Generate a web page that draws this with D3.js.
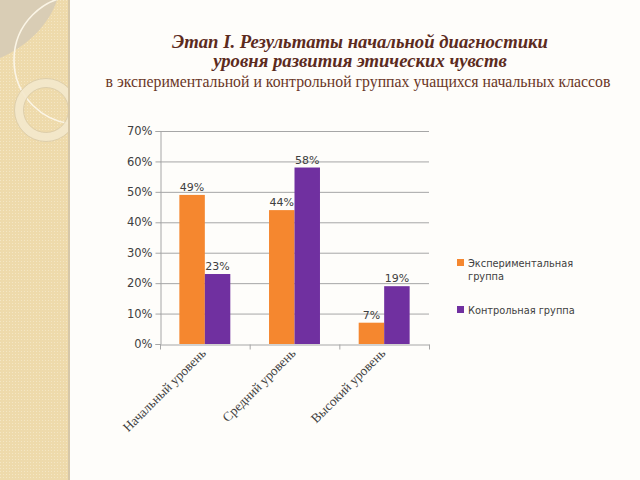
<!DOCTYPE html>
<html><head><meta charset="utf-8">
<script src="https://cdn.jsdelivr.net/npm/d3@7"></script>
<style>html,body{margin:0;padding:0;background:#fefdfa;}svg{display:block;}</style>
</head><body>
<script>
const categories = ["Начальный уровень", "Средний уровень", "Высокий уровень"];
const seriesNames = ["Экспериментальная группа", "Контрольная группа"];
const experimental = [49, 44, 7];
const control = [23, 58, 19];
const yTicks = [0, 10, 20, 30, 40, 50, 60, 70];
const colors = ["#f5872f", "#7030a0"];

const W = 640, H = 480;
const svg = d3.select("body").append("svg").attr("width", W).attr("height", H);
svg.append("rect").attr("width", W).attr("height", H).attr("fill", "#fefdfa");

// left decorative panel
const defs = svg.append("defs");
const pat = defs.append("pattern").attr("id", "dots").attr("width", 3).attr("height", 3).attr("patternUnits", "userSpaceOnUse");
pat.append("rect").attr("width", 3).attr("height", 3).attr("fill", "#eedaab");
pat.append("rect").attr("width", 1).attr("height", 1).attr("fill", "#f4e6c4");
defs.append("clipPath").attr("id", "panel").append("rect").attr("width", 69).attr("height", H);
const panel = svg.append("g").attr("clip-path", "url(#panel)");
panel.append("rect").attr("width", 69).attr("height", H).attr("fill", "url(#dots)");
panel.append("path").attr("d", "M0,0 L57,0 C50,22 30,45 0,58 Z").attr("fill", "#d9cdb5");
panel.append("circle").attr("cx", 78).attr("cy", 60).attr("r", 64).attr("fill", "none").attr("stroke", "#fbf5e6").attr("stroke-width", 1.6);
panel.append("circle").attr("cx", 46).attr("cy", 110).attr("r", 27).attr("fill", "none").attr("stroke", "#f3e8cc").attr("stroke-width", 9).attr("opacity", 0.9);
panel.append("circle").attr("cx", 46).attr("cy", 110).attr("r", 31.5).attr("fill", "none").attr("stroke", "#d8c9a6").attr("stroke-width", 0.8);
panel.append("circle").attr("cx", 46).attr("cy", 110).attr("r", 22.5).attr("fill", "none").attr("stroke", "#d8c9a6").attr("stroke-width", 0.8);
svg.append("rect").attr("x", 68).attr("y", 0).attr("width", 2).attr("height", H).attr("fill", "#d6c7a8");

// titles
const tg = svg.append("g").attr("fill", "#5c2b1e").attr("text-anchor", "middle");
tg.append("text").attr("x", 360).attr("y", 48).attr("font-family", "Liberation Serif, serif")
  .attr("font-style", "italic").attr("font-weight", "bold").attr("font-size", 18.7)
  .text("Этап I. Результаты начальной диагностики");
tg.append("text").attr("x", 360).attr("y", 67).attr("font-family", "Liberation Serif, serif")
  .attr("font-style", "italic").attr("font-weight", "bold").attr("font-size", 18.7)
  .text("уровня развития этических чувств");
tg.append("text").attr("x", 358).attr("y", 87).attr("font-family", "Liberation Serif, serif")
  .attr("font-size", 15.8).attr("fill", "#6a3626")
  .text("в экспериментальной и контрольной группах учащихся начальных классов");

// chart
const x0 = 160, x1 = 429, yTop = 131, yBot = 344;
const x = d3.scaleBand().domain(categories).range([x0, x1]).paddingInner(0).paddingOuter(0);
const xs = d3.scaleBand().domain([0, 1]).range([0, x.bandwidth()]).paddingInner(0).paddingOuter(0.76);
const y = d3.scaleLinear().domain([0, 70]).range([yBot, yTop]);

const grid = svg.append("g");
grid.selectAll("line").data(yTicks.filter(d => d > 0)).join("line")
  .attr("x1", x0).attr("x2", x1).attr("y1", d => y(d) + 0.5).attr("y2", d => y(d) + 0.5)
  .attr("stroke", "#a6a6a6").attr("stroke-width", 1);

const data = categories.map((c, i) => ({ c, vals: [experimental[i], control[i]] }));
const groups = svg.append("g").selectAll("g").data(data).join("g")
  .attr("transform", d => `translate(${x(d.c)},0)`);
groups.selectAll("rect").data(d => d.vals).join("rect")
  .attr("x", (v, i) => xs(i)).attr("width", xs.bandwidth())
  .attr("y", v => y(v)).attr("height", v => y(0) - y(v))
  .attr("fill", (v, i) => colors[i]);
groups.selectAll("text").data(d => d.vals).join("text")
  .attr("x", (v, i) => xs(i) + xs.bandwidth() / 2).attr("y", v => y(v) - 4)
  .attr("text-anchor", "middle").attr("font-family", "DejaVu Sans, sans-serif").attr("font-size", 11)
  .attr("fill", "#404040").text(v => v + "%");

// y axis
const yAxis = svg.append("g").attr("transform", `translate(${x0 + 0.5},0)`)
  .call(d3.axisLeft(y).tickValues(yTicks).tickFormat(d => d + "%").tickSize(5).tickPadding(3));
yAxis.select(".domain").attr("stroke", "#a6a6a6");
yAxis.selectAll(".tick line").attr("stroke", "#a6a6a6");
yAxis.selectAll(".tick text").attr("font-family", "DejaVu Sans, sans-serif").attr("font-size", 11.5).attr("fill", "#404040");

// x axis
const xAxis = svg.append("g").attr("transform", `translate(0,${yBot + 0.5})`)
  .call(d3.axisBottom(x).tickSize(0).tickFormat(""));
xAxis.select(".domain").attr("stroke", "#a6a6a6");
xAxis.selectAll(".tick").remove();
const bounds = categories.map(c => x(c)).concat([x1]);
xAxis.selectAll("line.b").data(bounds).join("line").attr("class", "b")
  .attr("x1", d => d + 0.5).attr("x2", d => d + 0.5).attr("y1", 0).attr("y2", 5).attr("stroke", "#a6a6a6");
svg.append("g").selectAll("text").data(categories).join("text")
  .attr("transform", d => `translate(${x(d) + x.bandwidth() / 2 + 2},${yBot + 10}) rotate(-45)`)
  .attr("text-anchor", "end").attr("font-family", "Liberation Serif, serif").attr("font-size", 13.2)
  .attr("fill", "#404040").text(d => d);

// legend
const lg = svg.append("g").attr("font-family", "DejaVu Sans, sans-serif").attr("font-size", 9.8).attr("fill", "#404040");
const legendItems = [
  { name: seriesNames[0], lines: ["Экспериментальная", "группа"], y: 259 },
  { name: seriesNames[1], lines: ["Контрольная группа"], y: 306 }
];
legendItems.forEach((it, i) => {
  lg.append("rect").attr("x", 457).attr("y", it.y).attr("width", 7).attr("height", 7).attr("fill", colors[i]);
  const t = lg.append("text").attr("x", 468).attr("y", it.y + 7.5);
  it.lines.forEach((l, k) => t.append("tspan").attr("x", 468).attr("dy", k ? 13 : 0).text(l));
});
</script>
</body></html>
